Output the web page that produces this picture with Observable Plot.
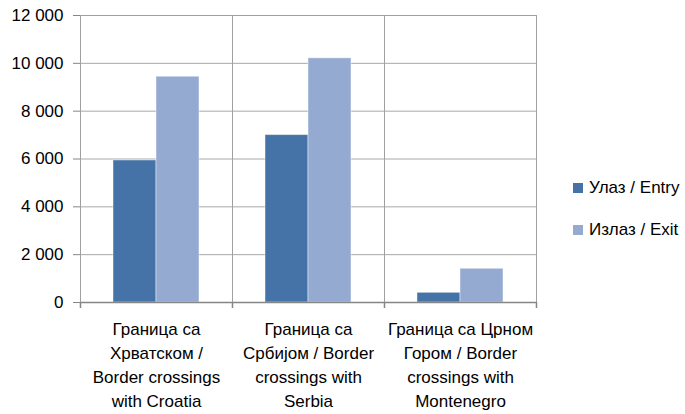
<!DOCTYPE html>
<html>
<head>
<meta charset="utf-8">
<script src="https://cdn.jsdelivr.net/npm/d3@7"></script>
<script src="https://cdn.jsdelivr.net/npm/@observablehq/plot@0.6"></script>
<style>
  body { margin: 0; background: #fff; font-family: "Liberation Sans", Arial, sans-serif; }
  #wrap { position: relative; width: 685px; height: 414px; }
  #legend { position: absolute; left: 573px; top: 176px; font-size: 17px; color: #000; }
  #legend .item { display: flex; align-items: center; height: 24px; margin-bottom: 18px; }
  #legend .sw { width: 10px; height: 10px; margin-right: 6px; }
</style>
</head>
<body>
<div id="wrap"><div id="legend"></div></div>
<script>
const categories = [
  "Граница са\nХрватском /\nBorder crossings\nwith Croatia",
  "Граница са\nСрбијом / Border\ncrossings with\nSerbia",
  "Граница са Црном\nГором / Border\ncrossings with\nMontenegro"
];
const seriesNames = ["Улаз / Entry", "Излаз / Exit"];
const seriesColors = ["#4573a7", "#95aad1"];
const entryValues = [5940, 7000, 405];
const exitValues = [9440, 10210, 1410];
const yTicks = [0, 2000, 4000, 6000, 8000, 10000, 12000];

const data = [];
categories.forEach((c, i) => {
  data.push({category: c, series: seriesNames[0], value: entryValues[i]});
  data.push({category: c, series: seriesNames[1], value: exitValues[i]});
});

const fmt = v => d3.format(",")(v).replace(/,/g, " ");

const chart = Plot.plot({
  width: 685,
  height: 414,
  marginLeft: 79,
  marginRight: 149,
  marginTop: 15,
  marginBottom: 112,
  style: {fontFamily: '"Liberation Sans", Arial, sans-serif', fontSize: "17px", color: "#000", background: "#fff"},
  fx: {domain: categories, padding: 0, label: null},
  x: {domain: seriesNames, paddingInner: 0, paddingOuter: 0.75, axis: null},
  y: {domain: [0, 12000], label: null},
  color: {domain: seriesNames, range: seriesColors},
  marks: [
    Plot.gridY(yTicks, {stroke: "#a8a8a8", strokeOpacity: 1}),
    Plot.frame({stroke: "#a0a0a0"}),
    Plot.barY(data, {fx: "category", x: "series", y: "value", fill: "series", stroke: "#ffffff", strokeOpacity: 0.45, strokeWidth: 1}),
    Plot.ruleY([0], {stroke: "#868686", strokeWidth: 1.5}),
    Plot.axisY({ticks: yTicks, tickFormat: fmt, tickSize: 7, tickPadding: 10, stroke: "#868686", fill: "#000", fontSize: 17, label: null}),
    Plot.axisFx({anchor: "bottom", tickSize: 0, tickPadding: 15, lineHeight: 1.42, fontSize: 17, fill: "#000", label: null})
  ]
});

// boundary tick marks below the x axis, positioned through the fx and y scales
const fx = chart.scale("fx");
const ys = chart.scale("y");
const y0 = ys.apply(0);
const svg = d3.select(chart);
const edges = categories.map(c => fx.apply(c));
edges.push(fx.apply(categories[categories.length - 1]) + fx.bandwidth);
svg.append("g").selectAll("line").data(edges).join("line")
  .attr("x1", d => d + 0.5).attr("x2", d => d + 0.5)
  .attr("y1", y0).attr("y2", y0 + 6)
  .attr("stroke", "#868686").attr("stroke-width", 1.5);

document.getElementById("wrap").prepend(chart);

const legend = document.getElementById("legend");
seriesNames.forEach((s, i) => {
  const item = document.createElement("div");
  item.className = "item";
  item.innerHTML = `<span class="sw" style="background:${seriesColors[i]}"></span><span>${s}</span>`;
  legend.appendChild(item);
});
</script>
</body>
</html>
